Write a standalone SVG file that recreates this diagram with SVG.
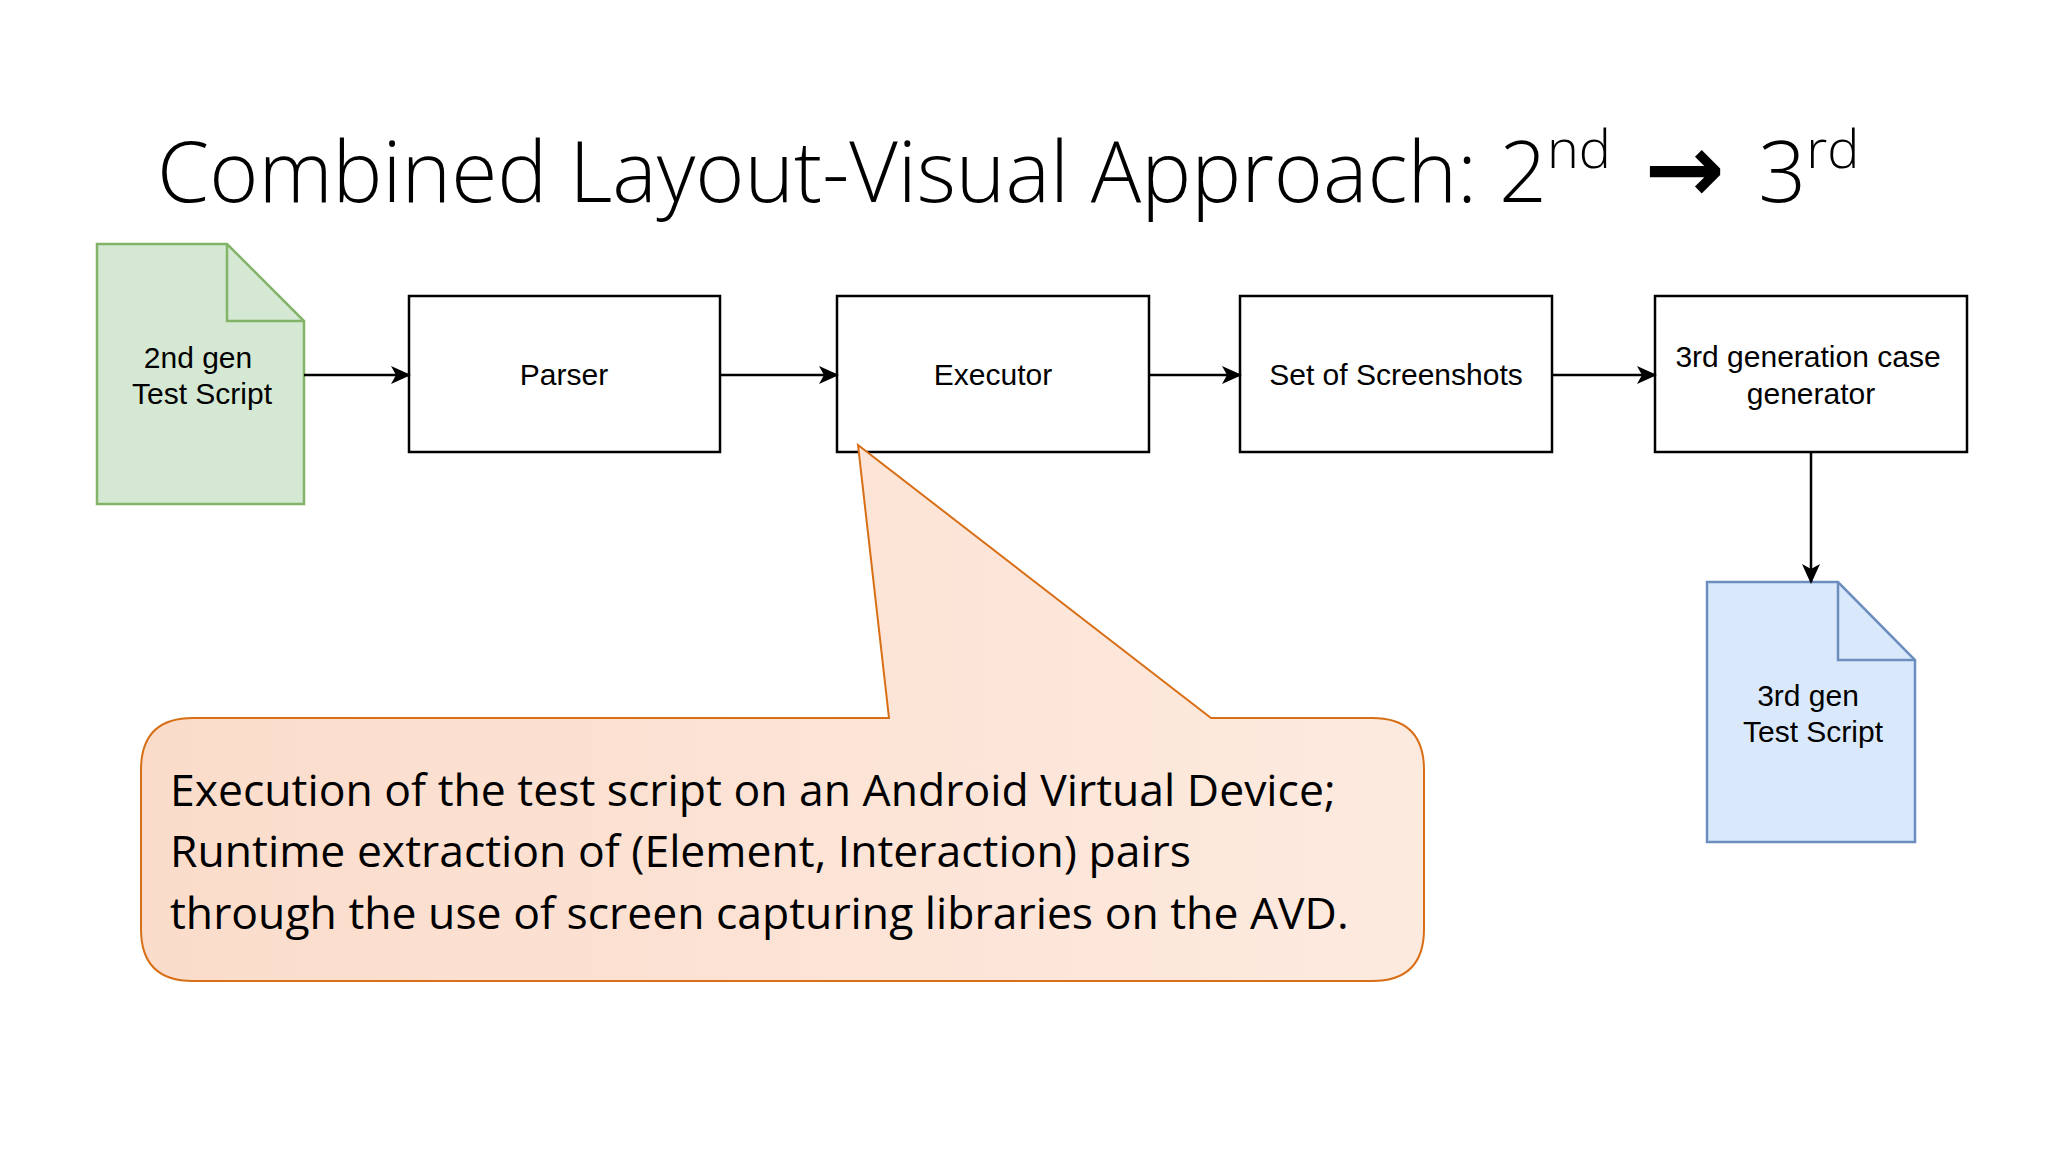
<svg xmlns="http://www.w3.org/2000/svg" width="2048" height="1152" viewBox="0 0 2048 1152">
<style>
.box{fill:#fff;stroke:#000;stroke-width:2.5}
.t{font-family:"Liberation Sans",Arial,sans-serif;font-size:30px;fill:#000;text-anchor:middle}
.c{stroke:#000;stroke-width:2.5;fill:none;marker-end:url(#a)}
.call{font-family:"Open Sans",sans-serif;font-size:44.5px;fill:#000}
</style>
<defs>
<marker id="a" markerWidth="20" markerHeight="18" refX="18" refY="9" orient="auto" markerUnits="userSpaceOnUse" viewBox="0 0 20 18">
<path d="M0,0 L20,9 L0,18 L5,9 Z" fill="#000"/>
</marker>
<linearGradient id="g" x1="0" y1="0" x2="1" y2="0"><stop offset="0" stop-color="#fbdccb"/><stop offset="1" stop-color="#fdeadf"/></linearGradient>
</defs>
<rect width="2048" height="1152" fill="#fff"/>
<text x="157" y="202" font-family="'Open Sans',sans-serif" font-weight="300" font-size="84" fill="#000">Combined Layout-Visual Approach: 2<tspan font-size="54" dy="-34">nd</tspan><tspan dy="34" font-family="'DejaVu Sans',sans-serif" font-weight="bold" font-size="96"> → </tspan>3<tspan font-size="54" dy="-34">rd</tspan></text>
<g id="doc2">
<path d="M97,244 H227 L304,321 V504 H97 Z" fill="#d5e8d4" stroke="#82b366" stroke-width="2.5"/>
<path d="M227,244 V321 H304" fill="none" stroke="#82b366" stroke-width="2.5"/>
<text class="t" x="198" y="368">2nd gen</text>
<text class="t" x="202" y="404">Test Script</text>
</g>
<g id="parser"><rect class="box" x="409" y="296" width="311" height="156"/><text class="t" x="564" y="385">Parser</text></g>
<g id="executor"><rect class="box" x="837" y="296" width="312" height="156"/><text class="t" x="993" y="385">Executor</text></g>
<g id="screens"><rect class="box" x="1240" y="296" width="312" height="156"/><text class="t" x="1396" y="385">Set of Screenshots</text></g>
<g id="gen"><rect class="box" x="1655" y="296" width="312" height="156"/><text class="t" x="1808" y="367">3rd generation case</text><text class="t" x="1811" y="404">generator</text></g>
<g id="doc3">
<path d="M1707,582 H1838 L1915,660 V842 H1707 Z" fill="#dae8fc" stroke="#6c8ebf" stroke-width="2.5"/>
<path d="M1838,582 V660 H1915" fill="none" stroke="#6c8ebf" stroke-width="2.5"/>
<text class="t" x="1808" y="706">3rd gen</text>
<text class="t" x="1813" y="742">Test Script</text>
</g>
<g id="connectors">
<line class="c" x1="304" y1="375" x2="409" y2="375"/>
<line class="c" x1="720" y1="375" x2="837" y2="375"/>
<line class="c" x1="1149" y1="375" x2="1240" y2="375"/>
<line class="c" x1="1552" y1="375" x2="1655" y2="375"/>
<line class="c" x1="1811" y1="452" x2="1811" y2="582"/>
</g>
<g id="callout">
<path d="M193,718 H889 L858,445 L1211,718 H1372 Q1424,718 1424,770 V929 Q1424,981 1372,981 H193 Q141,981 141,929 V770 Q141,718 193,718 Z" fill="url(#g)" stroke="#d86f16" stroke-width="2"/>
<text class="call" x="170" y="806">Execution of the test script on an Android Virtual Device;</text>
<text class="call" x="170" y="867">Runtime extraction of (Element, Interaction) pairs</text>
<text class="call" x="170" y="929">through the use of screen capturing libraries on the AVD.</text>
</g>
</svg>
